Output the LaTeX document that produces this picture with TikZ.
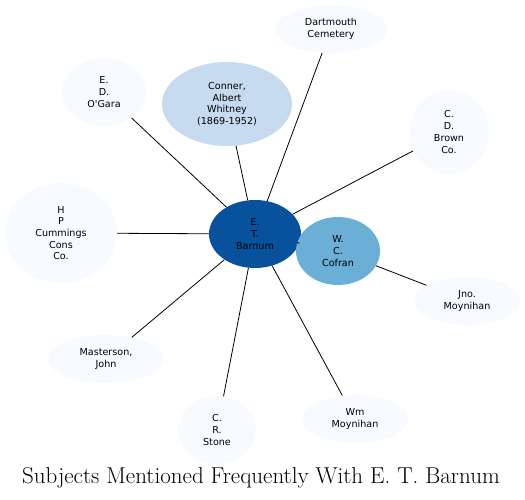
\documentclass[tikz,border=0pt]{standalone}
\usepackage{fontspec}
\usetikzlibrary{shapes.geometric}
\newfontfamily\subjfont{DejaVu Sans}

\definecolor{hubblue}{HTML}{08519C}
\definecolor{midblue}{HTML}{6BAED6}
\definecolor{paleblue}{HTML}{C6DBEF}
\definecolor{faintblue}{HTML}{F7FBFF}

\tikzset{
    subject/.style={ellipse, draw=none, inner sep=0pt, align=center,
        font=\subjfont\fontsize{9.6}{11.7}\selectfont},
    link/.style={draw=black, line width=0.8pt}
}

\begin{document}
\begin{tikzpicture}[x=1pt, y=-1pt]

    % ==========================================
    % 1. CANVAS
    % ==========================================
    \useasboundingbox (0,0) rectangle (525,500);

    % ==========================================
    % 2. SUBJECT NODES
    % ==========================================
    \node[subject, fill=hubblue, minimum width=92, minimum height=68]
        (barnum) at (255,234) {E.\\T.\\Barnum};
    \node[subject, fill=midblue, minimum width=84, minimum height=68]
        (cofran) at (338,251) {W.\\C.\\Cofran};
    \node[subject, fill=paleblue, minimum width=130, minimum height=84]
        (conner) at (227,104) {Conner,\\Albert\\Whitney\\(1869-1952)};

    % Outer ring (faint)
    \node[subject, fill=faintblue, minimum width=112, minimum height=48]
        (dartmouth) at (331,29) {Dartmouth\\Cemetery};
    \node[subject, fill=faintblue, minimum width=84, minimum height=68]
        (ogara) at (104,92) {E.\\D.\\O'Gara};
    \node[subject, fill=faintblue, minimum width=80, minimum height=84]
        (brown) at (449,132) {C.\\D.\\Brown\\Co.};
    \node[subject, fill=faintblue, minimum width=112, minimum height=100]
        (cummings) at (61,233) {H\\P\\Cummings\\Cons\\Co.};
    \node[subject, fill=faintblue, minimum width=106, minimum height=48]
        (jno) at (467,301) {Jno.\\Moynihan};
    \node[subject, fill=faintblue, minimum width=116, minimum height=48]
        (masterson) at (106,359) {Masterson,\\John};
    \node[subject, fill=faintblue, minimum width=78, minimum height=68]
        (stone) at (217,430) {C.\\R.\\Stone};
    \node[subject, fill=faintblue, minimum width=106, minimum height=48]
        (wm) at (355,419) {Wm\\Moynihan};

    % ==========================================
    % 3. LINKS
    % ==========================================
    \foreach \other in {conner, dartmouth, ogara, brown, cummings,
                        masterson, stone, wm, cofran}
        \draw[link] (barnum) -- (\other);
    \draw[link] (cofran) -- (jno);

    % ==========================================
    % 4. TITLE
    % ==========================================
    \node[font=\fontsize{23}{26}\selectfont] (title) at (261,478)
        {Subjects Mentioned Frequently With E. T. Barnum};

\end{tikzpicture}
\end{document}
